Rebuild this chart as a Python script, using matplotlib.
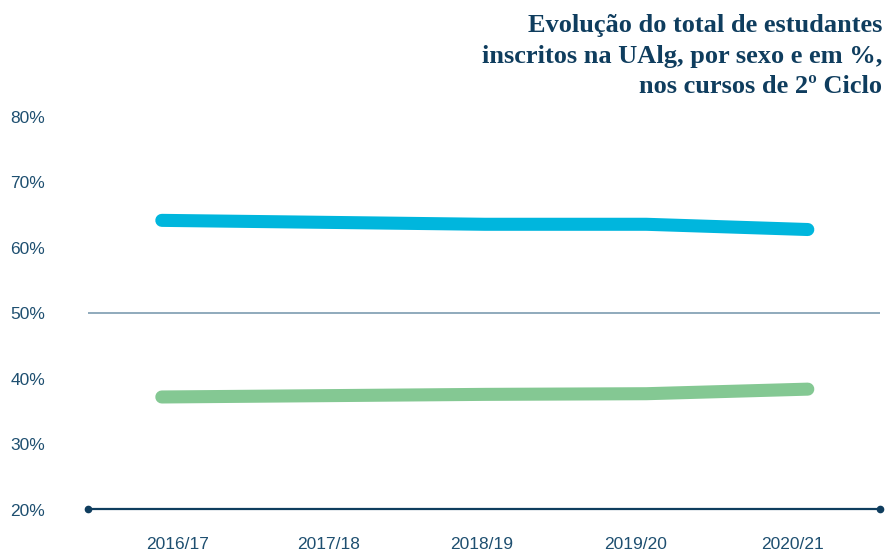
import matplotlib.pyplot as plt
import matplotlib

# label font: plain sans, numbers in dark blue
matplotlib.rc('font', family=['Liberation Sans', 'DejaVu Sans'], size=12)

anos = ["2016/17", "2017/18", "2018/19", "2019/20", "2020/21"]
mulheres = [64.2, 63.9, 63.6, 63.6, 62.8]   # blue series
homens = [37.2, 37.4, 37.6, 37.7, 38.4]     # green series
y_ticks = [20, 30, 40, 50, 60, 70, 80]
titulo = "Evolução do total de estudantes\ninscritos na UAlg, por sexo e em %,\nnos cursos de 2º Ciclo"

navy = "#0f3d5e"
tick_col = "#1e4f70"
blue = "#00b6dd"
green = "#84c893"

W, H = 887, 555
fig = plt.figure(figsize=(W / 100, H / 100), dpi=100)
ax = fig.add_axes([88 / W, 45.5 / H, 792 / W, 392.5 / H])

x = list(range(len(anos)))
ax.plot(x, mulheres, color=blue, linewidth=9.4, solid_capstyle='round', solid_joinstyle='round', zorder=3)
ax.plot(x, homens, color=green, linewidth=9.4, solid_capstyle='round', solid_joinstyle='round', zorder=3)

ax.set_xlim(-0.457, 4.447)
ax.set_ylim(20, 80)

# 50% reference line and bottom baseline with dotted ends
ax.axhline(50, color="#7d9cb0", linewidth=1.2, zorder=1)
ax.plot([-0.457, 4.447], [20, 20], color=navy, linewidth=1.6, marker='o', markersize=4.5,
        clip_on=False, zorder=2)

for s in ax.spines.values():
    s.set_visible(False)

ax.set_yticks(y_ticks)
ax.set_yticklabels([f"{v}%" for v in y_ticks], color=tick_col, fontsize=12.5)
ax.tick_params(axis='y', length=0, pad=56)
for lbl in ax.get_yticklabels():
    lbl.set_horizontalalignment('left')

# year labels sit a little off the data points
label_pos = [0.096, 1.034, 1.978, 2.935, 3.904]
ax.set_xticks(label_pos)
ax.set_xticklabels(anos, color=tick_col, fontsize=12.5)
ax.tick_params(axis='x', length=0, pad=20)

fig.text(882 / W, 1 - 14 / H, titulo, ha='right', va='top', color=navy,
         fontsize=19, fontweight='bold', family='Liberation Serif', linespacing=1.42)

fig.savefig("out.png", dpi=100)
